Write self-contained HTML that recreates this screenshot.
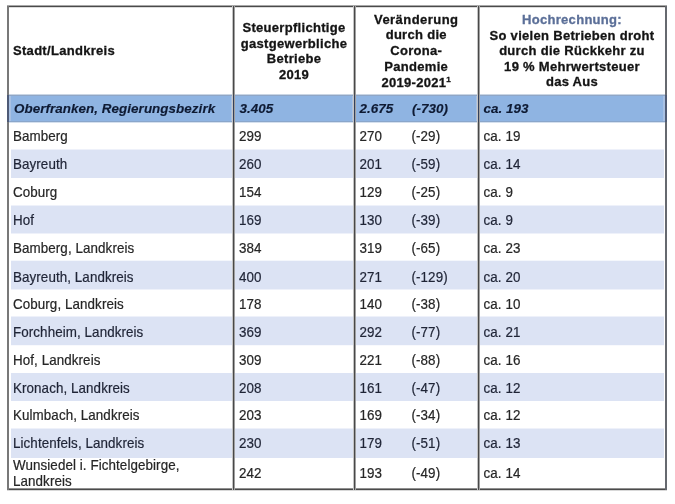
<!DOCTYPE html>
<html><head><meta charset="utf-8"><style>
html,body{margin:0;padding:0;background:#fff;width:675px;height:504px;overflow:hidden}
body{position:relative;font-family:"Liberation Sans",sans-serif;font-size:13.4px;color:#262626}
#w{position:absolute;left:0;top:0;width:675px;height:504px;will-change:transform}
.a{position:absolute}
.t{position:absolute;white-space:nowrap;line-height:16px;transform:scaleY(1.07);transform-origin:0 50%;-webkit-text-stroke:0.2px currentColor;letter-spacing:0.08px}
.h{font-weight:bold;text-align:center;color:#141414;letter-spacing:0.3px;font-size:13px;transform:none;-webkit-text-stroke:0.3px currentColor}
.bi{font-weight:bold;font-style:italic;color:#0e1a33;transform:none;letter-spacing:0.06px;-webkit-text-stroke:0.15px currentColor}
.vl{position:absolute;width:3px;background:linear-gradient(to right,#c4c4c4 0 1px,#484848 1px 2px,#a0a0a0 2px 3px)}
</style></head><body><div id="w">

<div class="a" style="left:9px;top:94px;width:656px;height:1px;background:#c9d5e4"></div>
<div class="a" style="left:9px;top:95px;width:656px;height:1px;background:#8fa6c6"></div>
<div class="a" style="left:9px;top:96px;width:656px;height:25px;background:#8fb4e2"></div>
<div class="a" style="left:9px;top:121px;width:656px;height:1px;background:#8aa6ca"></div>
<div class="a" style="left:9px;top:122px;width:656px;height:1px;background:#d5e0ee"></div>
<div class="a" style="left:9px;top:96px;width:2px;height:25px;background:#a9c1e3"></div>
<div class="a" style="left:663px;top:96px;width:2px;height:25px;background:#a9c1e3"></div>
<div class="a" style="left:231px;top:96px;width:2px;height:25px;background:#a9c1e3"></div>
<div class="a" style="left:352px;top:96px;width:2px;height:25px;background:#a9c1e3"></div>
<div class="a" style="left:476px;top:96px;width:2px;height:25px;background:#a9c1e3"></div>
<div class="a" style="left:11px;top:150px;width:653px;height:28px;background:#dce3f4"></div>
<div class="a" style="left:11px;top:149px;width:653px;height:1px;background:#eef1fa"></div>
<div class="a" style="left:232px;top:149px;width:1px;height:30px;background:#eef1f9"></div>
<div class="a" style="left:353px;top:149px;width:1px;height:30px;background:#eef1f9"></div>
<div class="a" style="left:477px;top:149px;width:1px;height:30px;background:#eef1f9"></div>
<div class="a" style="left:11px;top:206px;width:653px;height:27px;background:#dce3f4"></div>
<div class="a" style="left:11px;top:205px;width:653px;height:1px;background:#eef1fa"></div>
<div class="a" style="left:11px;top:233px;width:653px;height:1px;background:#eef1fa"></div>
<div class="a" style="left:232px;top:205px;width:1px;height:29px;background:#eef1f9"></div>
<div class="a" style="left:353px;top:205px;width:1px;height:29px;background:#eef1f9"></div>
<div class="a" style="left:477px;top:205px;width:1px;height:29px;background:#eef1f9"></div>
<div class="a" style="left:11px;top:261px;width:653px;height:28px;background:#dce3f4"></div>
<div class="a" style="left:11px;top:260px;width:653px;height:1px;background:#f4f7fc"></div>
<div class="a" style="left:11px;top:289px;width:653px;height:1px;background:#eef1fa"></div>
<div class="a" style="left:232px;top:260px;width:1px;height:30px;background:#eef1f9"></div>
<div class="a" style="left:353px;top:260px;width:1px;height:30px;background:#eef1f9"></div>
<div class="a" style="left:477px;top:260px;width:1px;height:30px;background:#eef1f9"></div>
<div class="a" style="left:11px;top:317px;width:653px;height:28px;background:#dce3f4"></div>
<div class="a" style="left:11px;top:316px;width:653px;height:1px;background:#eef1fa"></div>
<div class="a" style="left:11px;top:345px;width:653px;height:1px;background:#f8f9fd"></div>
<div class="a" style="left:232px;top:316px;width:1px;height:30px;background:#eef1f9"></div>
<div class="a" style="left:353px;top:316px;width:1px;height:30px;background:#eef1f9"></div>
<div class="a" style="left:477px;top:316px;width:1px;height:30px;background:#eef1f9"></div>
<div class="a" style="left:11px;top:373px;width:653px;height:28px;background:#dce3f4"></div>
<div class="a" style="left:232px;top:372px;width:1px;height:30px;background:#eef1f9"></div>
<div class="a" style="left:353px;top:372px;width:1px;height:30px;background:#eef1f9"></div>
<div class="a" style="left:477px;top:372px;width:1px;height:30px;background:#eef1f9"></div>
<div class="a" style="left:11px;top:429px;width:653px;height:29px;background:#dce3f4"></div>
<div class="a" style="left:11px;top:428px;width:653px;height:1px;background:#eef1fa"></div>
<div class="a" style="left:232px;top:428px;width:1px;height:31px;background:#eef1f9"></div>
<div class="a" style="left:353px;top:428px;width:1px;height:31px;background:#eef1f9"></div>
<div class="a" style="left:477px;top:428px;width:1px;height:31px;background:#eef1f9"></div>
<div class="a" style="left:7px;top:5px;width:660px;height:1px;background:#a8a8a8"></div>
<div class="a" style="left:7px;top:6px;width:660px;height:1px;background:#4a4a4a"></div>
<div class="a" style="left:9px;top:7px;width:656px;height:1px;background:#dcdcdc"></div>
<div class="a" style="left:7px;top:488px;width:660px;height:1px;background:#909090"></div>
<div class="a" style="left:7px;top:489px;width:660px;height:1px;background:#4a4a4a"></div>
<div class="a" style="left:7px;top:490px;width:660px;height:1px;background:#d8d8d8"></div>
<div class="a" style="left:7px;top:6px;width:2px;height:484px;background:#787878"></div>
<div class="a" style="left:665px;top:6px;width:2px;height:484px;background:#66696f"></div>
<div class="vl" style="left:232px;top:6px;height:484px"></div>
<div class="vl" style="left:353px;top:6px;height:484px"></div>
<div class="vl" style="left:477px;top:6px;height:484px"></div>
<div class="a" style="left:233px;top:95px;width:1px;height:27px;background:#33405c"></div>
<div class="a" style="left:354px;top:95px;width:1px;height:27px;background:#33405c"></div>
<div class="a" style="left:478px;top:95px;width:1px;height:27px;background:#33405c"></div>
<div class="a" style="left:7px;top:95px;width:2px;height:27px;background:#4d5a76"></div>
<div class="a" style="left:665px;top:95px;width:2px;height:27px;background:#4f5b74"></div>
<div class="t h" style="left:13px;top:43px;text-align:left">Stadt/Landkreis</div>
<div class="t h" style="left:234px;width:120px;top:20.4px;">Steuerpflichtige</div>
<div class="t h" style="left:234px;width:120px;top:35.9px;">gastgewerbliche</div>
<div class="t h" style="left:234px;width:120px;top:51.4px;">Betriebe</div>
<div class="t h" style="left:234px;width:120px;top:66.9px;">2019</div>
<div class="t h" style="left:354.5px;width:123.5px;top:11.7px;letter-spacing:0.45px">Veränderung</div>
<div class="t h" style="left:354.5px;width:123.5px;top:27.4px;">durch die</div>
<div class="t h" style="left:354.5px;width:123.5px;top:43.1px;">Corona-</div>
<div class="t h" style="left:354.5px;width:123.5px;top:58.8px;">Pandemie</div>
<div class="t h" style="left:354.5px;width:123.5px;top:74.5px;">2019-2021<sup style='font-size:8px;vertical-align:5px;line-height:0'>1</sup></div>
<div class="t h" style="left:479px;width:186px;top:11.5px;color:#5b6f98">Hochrechnung:</div>
<div class="t h" style="left:479px;width:186px;top:27.5px;">So vielen Betrieben droht</div>
<div class="t h" style="left:479px;width:186px;top:43.0px;">durch die Rückkehr zu</div>
<div class="t h" style="left:479px;width:186px;top:58.5px;">19 % Mehrwertsteuer</div>
<div class="t h" style="left:479px;width:186px;top:74.0px;">das Aus</div>
<div class="t bi" style="left:14px;top:100.5px">Oberfranken, Regierungsbezirk</div>
<div class="t bi" style="left:239.5px;top:100.5px">3.405</div>
<div class="t bi" style="left:359.5px;top:100.5px">2.675</div>
<div class="t bi" style="left:412px;top:100.5px">(-730)</div>
<div class="t bi" style="left:483.5px;top:100.5px">ca. 193</div>
<div class="t" style="left:13px;top:128.8px">Bamberg</div>
<div class="t" style="left:239px;top:128.8px">299</div>
<div class="t" style="left:359.5px;top:128.8px">270</div>
<div class="t" style="left:411.5px;top:128.8px">(-29)</div>
<div class="t" style="left:483.5px;top:128.8px">ca. 19</div>
<div class="t" style="left:13px;top:156.72px;color:#1f2436">Bayreuth</div>
<div class="t" style="left:239px;top:156.72px;color:#1f2436">260</div>
<div class="t" style="left:359.5px;top:156.72px;color:#1f2436">201</div>
<div class="t" style="left:411.5px;top:156.72px;color:#1f2436">(-59)</div>
<div class="t" style="left:483.5px;top:156.72px;color:#1f2436">ca. 14</div>
<div class="t" style="left:13px;top:184.64px">Coburg</div>
<div class="t" style="left:239px;top:184.64px">154</div>
<div class="t" style="left:359.5px;top:184.64px">129</div>
<div class="t" style="left:411.5px;top:184.64px">(-25)</div>
<div class="t" style="left:483.5px;top:184.64px">ca. 9</div>
<div class="t" style="left:13px;top:212.56px;color:#1f2436">Hof</div>
<div class="t" style="left:239px;top:212.56px;color:#1f2436">169</div>
<div class="t" style="left:359.5px;top:212.56px;color:#1f2436">130</div>
<div class="t" style="left:411.5px;top:212.56px;color:#1f2436">(-39)</div>
<div class="t" style="left:483.5px;top:212.56px;color:#1f2436">ca. 9</div>
<div class="t" style="left:13px;top:240.98px">Bamberg, Landkreis</div>
<div class="t" style="left:239px;top:240.98px">384</div>
<div class="t" style="left:359.5px;top:240.98px">319</div>
<div class="t" style="left:411.5px;top:240.98px">(-65)</div>
<div class="t" style="left:483.5px;top:240.98px">ca. 23</div>
<div class="t" style="left:13px;top:269.5px;color:#1f2436">Bayreuth, Landkreis</div>
<div class="t" style="left:239px;top:269.5px;color:#1f2436">400</div>
<div class="t" style="left:359.5px;top:269.5px;color:#1f2436">271</div>
<div class="t" style="left:411.5px;top:269.5px;color:#1f2436">(-129)</div>
<div class="t" style="left:483.5px;top:269.5px;color:#1f2436">ca. 20</div>
<div class="t" style="left:13px;top:297.12px">Coburg, Landkreis</div>
<div class="t" style="left:239px;top:297.12px">178</div>
<div class="t" style="left:359.5px;top:297.12px">140</div>
<div class="t" style="left:411.5px;top:297.12px">(-38)</div>
<div class="t" style="left:483.5px;top:297.12px">ca. 10</div>
<div class="t" style="left:13px;top:324.84px;color:#1f2436">Forchheim, Landkreis</div>
<div class="t" style="left:239px;top:324.84px;color:#1f2436">369</div>
<div class="t" style="left:359.5px;top:324.84px;color:#1f2436">292</div>
<div class="t" style="left:411.5px;top:324.84px;color:#1f2436">(-77)</div>
<div class="t" style="left:483.5px;top:324.84px;color:#1f2436">ca. 21</div>
<div class="t" style="left:13px;top:352.66px">Hof, Landkreis</div>
<div class="t" style="left:239px;top:352.66px">309</div>
<div class="t" style="left:359.5px;top:352.66px">221</div>
<div class="t" style="left:411.5px;top:352.66px">(-88)</div>
<div class="t" style="left:483.5px;top:352.66px">ca. 16</div>
<div class="t" style="left:13px;top:381.08px;color:#1f2436">Kronach, Landkreis</div>
<div class="t" style="left:239px;top:381.08px;color:#1f2436">208</div>
<div class="t" style="left:359.5px;top:381.08px;color:#1f2436">161</div>
<div class="t" style="left:411.5px;top:381.08px;color:#1f2436">(-47)</div>
<div class="t" style="left:483.5px;top:381.08px;color:#1f2436">ca. 12</div>
<div class="t" style="left:13px;top:408.4px">Kulmbach, Landkreis</div>
<div class="t" style="left:239px;top:408.4px">203</div>
<div class="t" style="left:359.5px;top:408.4px">169</div>
<div class="t" style="left:411.5px;top:408.4px">(-34)</div>
<div class="t" style="left:483.5px;top:408.4px">ca. 12</div>
<div class="t" style="left:13px;top:435.92px;color:#1f2436">Lichtenfels, Landkreis</div>
<div class="t" style="left:239px;top:435.92px;color:#1f2436">230</div>
<div class="t" style="left:359.5px;top:435.92px;color:#1f2436">179</div>
<div class="t" style="left:411.5px;top:435.92px;color:#1f2436">(-51)</div>
<div class="t" style="left:483.5px;top:435.92px;color:#1f2436">ca. 13</div>
<div class="t" style="left:13px;top:458.04px;line-height:15.2px">Wunsiedel i. Fichtelgebirge,<br>Landkreis</div>
<div class="t" style="left:239px;top:466.04px">242</div>
<div class="t" style="left:359.5px;top:466.04px">193</div>
<div class="t" style="left:411.5px;top:466.04px">(-49)</div>
<div class="t" style="left:483.5px;top:466.04px">ca. 14</div>
</div></body></html>
